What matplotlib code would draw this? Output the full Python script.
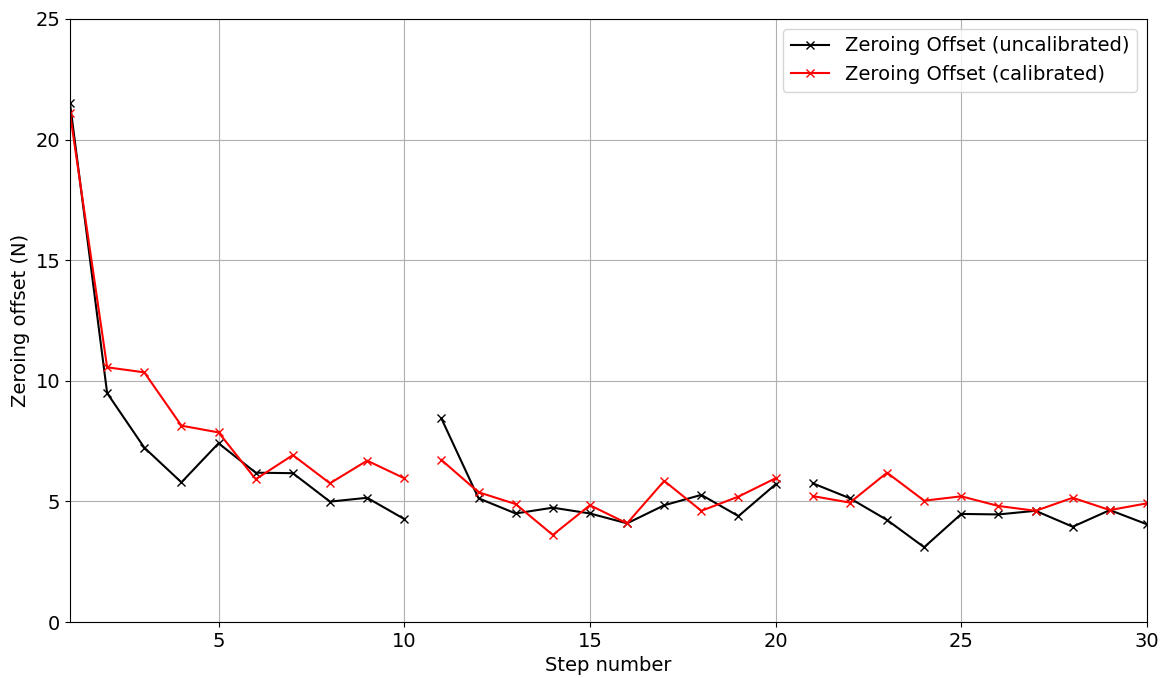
import numpy as np
import matplotlib.pyplot as plt

# step numbers and zeroing offsets (NaN = gap between runs)
steps = np.arange(1, 31)
uncalibrated = [21.5, 9.49, 7.23, 5.79, 7.41, 6.19, 6.17, 4.99, 5.15, 4.27,
                8.44, 5.13, 4.50, 4.74, 4.50, 4.09, 4.84, 5.27, 4.39, 5.71,
                5.75, 5.13, 4.23, 3.10, 4.48, 4.46, 4.61, 3.95, 4.64, 4.05]
calibrated = [21.09, 10.56, 10.35, 8.14, 7.86, 5.92, 6.92, 5.75, 6.69, 5.96,
              6.72, 5.38, 4.89, 3.61, 4.84, 4.09, 5.85, 4.61, 5.20, 5.96,
              5.22, 4.95, 6.19, 5.03, 5.21, 4.81, 4.61, 5.15, 4.64, 4.92]
breaks = [10, 20]  # lines are broken after these steps


def with_gaps(x, y):
    xs, ys = [], []
    for xi, yi in zip(x, y):
        xs.append(xi)
        ys.append(yi)
        if xi in breaks:
            xs.append(xi + 0.5)
            ys.append(np.nan)
    return xs, ys


fig = plt.figure(figsize=(11.67, 6.78), dpi=100)
ax = fig.add_axes([70 / 1167, 1 - 622 / 678, (1147 - 70) / 1167, (622 - 19) / 678])

x1, y1 = with_gaps(steps, uncalibrated)
x2, y2 = with_gaps(steps, calibrated)
ax.plot(x1, y1, color='black', marker='x', lw=1.5, label='Zeroing Offset (uncalibrated)')
ax.plot(x2, y2, color='red', marker='x', lw=1.5, label='Zeroing Offset (calibrated)')

ax.set_xlim(1, 30)
ax.set_ylim(0, 25)
ax.set_xticks([5, 10, 15, 20, 25, 30])
ax.set_yticks([0, 5, 10, 15, 20, 25])
ax.tick_params(labelsize=14)
ax.grid(True, color='#b0b0b0', lw=0.8)
ax.set_xlabel('Step number', fontsize=14)
ax.set_ylabel('Zeroing offset (N)', fontsize=14)
ax.legend(loc='upper right', fontsize=14)

plt.savefig('out.png')
